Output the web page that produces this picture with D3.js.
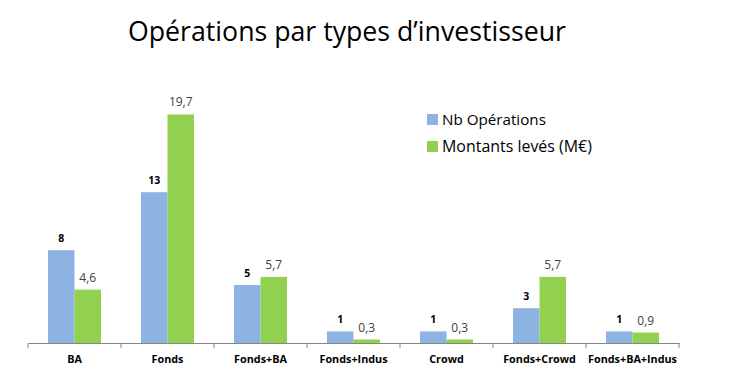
<!DOCTYPE html>
<html><head><meta charset="utf-8">
<script src="https://cdn.jsdelivr.net/npm/d3@7"></script>
<style>
body{margin:0;background:#fff;}
text{font-family:"Open Sans","Liberation Sans",sans-serif;}
</style></head>
<body><svg id="c" width="733" height="378"></svg>
<script>
const categories = ["BA","Fonds","Fonds+BA","Fonds+Indus","Crowd","Fonds+Crowd","Fonds+BA+Indus"];
const nbOperations = [8,13,5,1,1,3,1];
const montants = [4.6,19.7,5.7,0.3,0.3,5.7,0.9];
const montantLabels = ["4,6","19,7","5,7","0,3","0,3","5,7","0,9"];
const seriesNames = ["Nb Opérations","Montants levés (M€)"];
const colors = ["#8DB3E2","#92D050"];

const svg = d3.select("#c");
const x0 = d3.scaleBand().domain(categories).range([28,679]).paddingInner(0).paddingOuter(0);
const x1 = d3.scaleBand().domain([0,1]).range([0, x0.bandwidth()]).paddingInner(0).paddingOuter(0.755);
const y = d3.scaleLinear().domain([0,25]).range([343,53]);

function fit(sel, w){
  const n = sel.node();
  let fs = parseFloat(sel.attr("font-size"));
  const cw = n.getComputedTextLength();
  sel.attr("font-size", fs*w/cw);
}

// title
const t = svg.append("text").attr("x",347).attr("y",41).attr("text-anchor","middle")
  .attr("font-size",28).attr("fill","#000").text("Opérations par types d’investisseur");
fit(t, 438);

const g = svg.append("g");
categories.forEach((c,i)=>{
  const vals=[nbOperations[i], montants[i]];
  vals.forEach((v,s)=>{
    g.append("rect").attr("x", x0(c)+x1(s)).attr("y", y(v))
      .attr("width", x1.bandwidth()).attr("height", y(0)-y(v))
      .attr("fill", colors[s]);
  });
  g.append("text").attr("x", x0(c)+x1(0)+x1.bandwidth()/2).attr("y", y(nbOperations[i])-8)
    .attr("text-anchor","middle").attr("font-size",10.5).attr("font-weight","bold").attr("fill","#000")
    .text(nbOperations[i]);
  g.append("text").attr("x", x0(c)+x1(1)+x1.bandwidth()/2).attr("y", y(montants[i])-8)
    .attr("text-anchor","middle").attr("font-size",12).attr("fill","#404040")
    .text(montantLabels[i]);
});

// axis
const ax = svg.append("g").attr("transform","translate(0,343)")
  .call(d3.axisBottom(x0).tickSize(0).tickPadding(12));
ax.select(".domain").attr("stroke","#868686");
ax.selectAll(".tick text").attr("font-size",10.8).attr("font-weight","bold").attr("fill","#000")
  .attr("font-family","'Open Sans','Liberation Sans',sans-serif");
const tickPos = categories.map(c=>x0(c)).concat([x0.range()[1]]);
svg.append("g").selectAll("line").data(tickPos).join("line")
  .attr("x1",d=>d).attr("x2",d=>d).attr("y1",343).attr("y2",348).attr("stroke","#868686");

// legend
seriesNames.forEach((n,i)=>{
  const yy = 114 + i*27;
  svg.append("rect").attr("x",427).attr("y",yy).attr("width",11).attr("height",11).attr("fill",colors[i]);
  const lt = svg.append("text").attr("x",442).attr("y",yy+10.5).attr("font-size",15).attr("fill","#000").text(n);
  fit(lt, i===0?104:150);
});
</script></body></html>
